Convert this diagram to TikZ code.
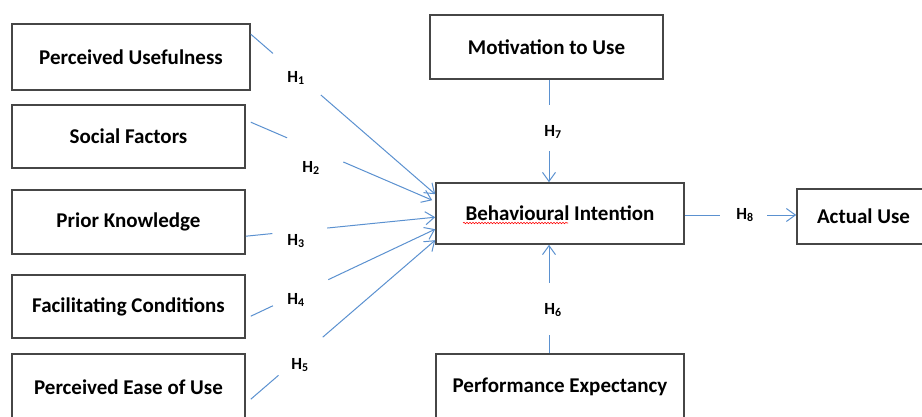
\documentclass[tikz,border=0pt]{standalone}
\usepackage{fontspec}
\setmainfont{Carlito}
\usetikzlibrary{arrows.meta,calc,decorations.pathmorphing}
\definecolor{arrowblue}{RGB}{91,145,208}
\definecolor{boxgray}{RGB}{70,70,70}
\begin{document}
\begin{tikzpicture}[x=1pt,y=-1pt,
  box/.style={draw=boxgray,line width=1.6pt,fill=white,inner sep=0pt,
    font=\fontsize{21}{24}\selectfont\bfseries},
  hlab/.style={inner sep=1pt,font=\fontsize{17}{20}\selectfont\bfseries},
  conn/.style={draw=arrowblue,line width=1pt},
  arr/.style={conn,-{Straight Barb[length=9pt,width=13pt,line width=1pt]}}]
\clip (0,0) rectangle (922,416);
\fill[white] (0,0) rectangle (922,416);

% boxes
\node[box,minimum width=238pt,minimum height=66pt] (pu) at (131,57) {Perceived Usefulness};
\node[box,minimum width=233pt,minimum height=63pt] (sf) at (128.5,136.5) {Social Factors};
\node[box,minimum width=233pt,minimum height=64pt] (pk) at (128.5,222) {Prior Knowledge};
\node[box,minimum width=233pt,minimum height=63pt] (fc) at (128.5,306.5) {Facilitating Conditions};
\node[box,minimum width=233pt,minimum height=66pt] (peu) at (128.5,387) {Perceived Ease of Use};
\node[box,minimum width=233pt,minimum height=64pt] (mu) at (546.5,47) {Motivation to Use};
\node[box,minimum width=248pt,minimum height=61pt] (bi) at (560,213.5) {Behavioural Intention};
\node[box,minimum width=248pt,minimum height=66pt] (pe) at (560,387) {Performance Expectancy};
\node[box,minimum width=133pt,minimum height=55pt] (au) at (863.5,216.5) {Actual Use};

% spell-check underline
\draw[red,line width=0.6pt,decorate,decoration={snake,amplitude=0.7pt,segment length=3pt}]
  (463,223) -- (568,223);

% connector end points
\coordinate (s1) at ([yshift=-11pt]pu.north east);
\coordinate (s2) at ([xshift=5pt,yshift=-18pt]sf.north east);
\coordinate (s3) at ([yshift=-47pt]pk.north east);
\coordinate (s4) at ([xshift=5pt,yshift=-42pt]fc.north east);
\coordinate (s5) at ([xshift=5pt,yshift=-46pt]peu.north east);
\coordinate (e1) at ([yshift=-12pt]bi.north west);
\coordinate (e2) at ([xshift=-3pt,yshift=-18pt]bi.north west);
\coordinate (e3) at ([yshift=-35pt]bi.north west);
\coordinate (e4) at ([yshift=-47pt]bi.north west);
\coordinate (e5) at ([yshift=-58pt]bi.north west);

\draw[conn] (s1) -- ($(s1)!0.12!(e1)$);
\draw[arr] ($(s1)!0.38!(e1)$) -- (e1);
\draw[conn] (s2) -- ($(s2)!0.2!(e2)$);
\draw[arr] ($(s2)!0.51!(e2)$) -- (e2);
\draw[conn] (s3) -- ($(s3)!0.14!(e3)$);
\draw[arr] ($(s3)!0.43!(e3)$) -- (e3);
\draw[conn] (s4) -- ($(s4)!0.12!(e4)$);
\draw[arr] ($(s4)!0.42!(e4)$) -- (e4);
\draw[conn] (s5) -- ($(s5)!0.15!(e5)$);
\draw[arr] ($(s5)!0.39!(e5)$) -- (e5);

\node[hlab] (h1) at (296,78) {H\textsubscript{1}};
\node[hlab] (h2) at (311,168) {H\textsubscript{2}};
\node[hlab] (h3) at (296,241) {H\textsubscript{3}};
\node[hlab] (h4) at (296,300) {H\textsubscript{4}};
\node[hlab] (h5) at (300,365) {H\textsubscript{5}};

% vertical connectors
\coordinate (m0) at ([xshift=2.5pt]mu.south);
\coordinate (b0) at ([xshift=-11pt]bi.north);
\coordinate (b1) at ([xshift=-11pt]bi.south);
\coordinate (p0) at ([xshift=-11pt]pe.north);
\draw[conn] (m0) -- ($(m0)!0.25!(b0)$);
\draw[arr] ($(m0)!0.70!(b0)$) -- (b0);
\node[hlab] (h7) at (553,132) {H\textsubscript{7}};
\draw[conn] (p0) -- ($(p0)!0.17!(b1)$);
\draw[arr] ($(p0)!0.65!(b1)$) -- (b1);
\node[hlab] (h6) at (553,310) {H\textsubscript{6}};

% H8
\coordinate (r0) at ([yshift=-1.5pt]bi.east);
\coordinate (r1) at (au.west |- r0);
\draw[conn] (r0) -- ($(r0)!0.32!(r1)$);
\draw[arr] ($(r0)!0.74!(r1)$) -- (r1);
\node[hlab] (h8) at (745,215) {H\textsubscript{8}};
\end{tikzpicture}
\end{document}
